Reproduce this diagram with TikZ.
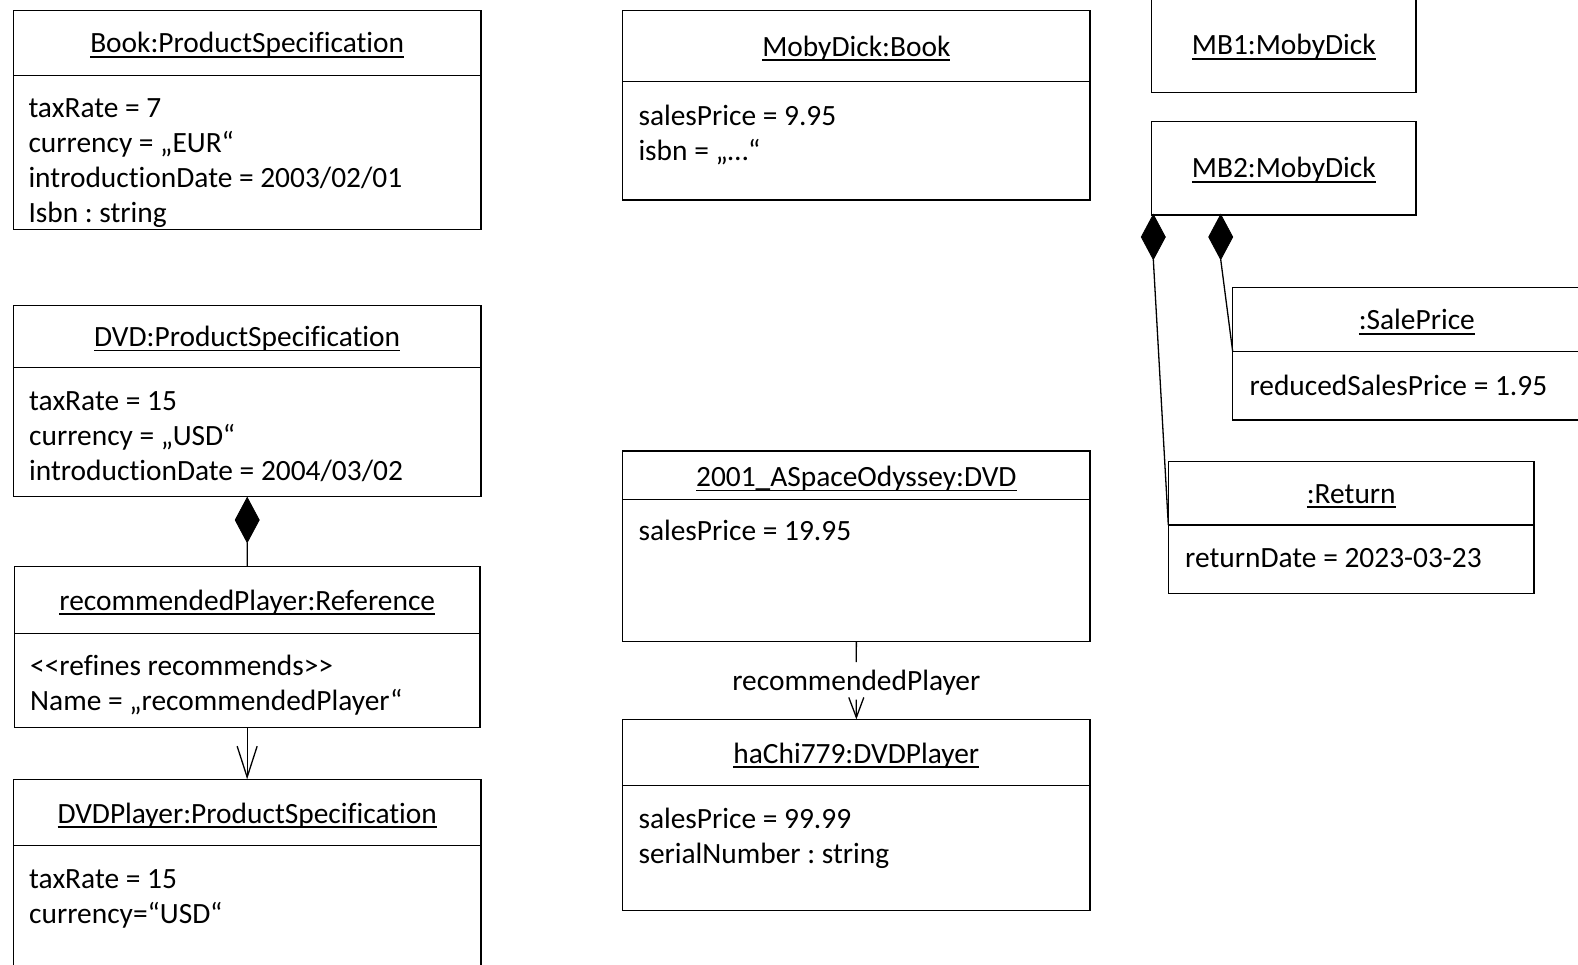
\documentclass[tikz,border=0pt]{standalone}
\usepackage{fontspec}
\setmainfont{Carlito}[Ligatures={TeXOff,NoCommon}]
\usetikzlibrary{arrows.meta,shapes.geometric}

% underlined object name (UML instance title)
\newcommand\objname[1]{\setbox0=\hbox{#1}\rlap{\rule[-4.6pt]{\wd0}{1.6pt}}\box0}
% rectangle node spanning the corners (x1,y1)-(x2,y2)
\newcommand\objframe[5]{%
  \node[objbox, minimum width={#4-#2}, minimum height={#5-#3}] (#1) at ({(#2+#4)/2},{(#3+#5)/2}) {};}

\tikzset{
  objbox/.style={draw, rectangle, line width=1.3pt, inner sep=0pt, outer sep=0pt},
  sepline/.style={line width=1.3pt},
  objtitle/.style={anchor=base, inner sep=0pt},
  objattr/.style={anchor=base west, inner sep=0pt},
  assoc/.style={line width=1.3pt},
  compdia/.style={diamond, draw, fill=black, line width=0.8pt, inner sep=0pt, outer sep=0pt,
                  minimum width=24pt, minimum height=45pt},
  assoclabel/.style={anchor=base, inner sep=0pt, text height=28.2pt, text depth=8.8pt},
}

\begin{document}
\frenchspacing
\begin{tikzpicture}[x=1pt, y=-1pt, font=\fontsize{29.4pt}{35pt}\selectfont]
\useasboundingbox (0,0) rectangle (1578,965);
\clip (0,0) rectangle (1578,965);

% ---------- left column: product specifications ----------
\objframe{book}{13.3}{10.7}{481}{229.3}
\draw[sepline] (13.3,75.7) -- (481,75.7);
\node[objtitle] (bookT) at (247.2,53) {\objname{Book:ProductSpecification}};
\node[objattr] (bookA1) at (28.3,117.5) {taxRate = 7};
\node[objattr] (bookA2) at (28.3,152.5) {currency = „EUR“};
\node[objattr] (bookA3) at (28.3,187.5) {introductionDate = 2003/02/01};
\node[objattr] (bookA4) at (28.3,222.5) {Isbn : string};

\objframe{dvd}{13.3}{305.7}{481}{496.7}
\draw[sepline] (13.3,367.7) -- (481,367.7);
\node[objtitle] (dvdT) at (247.2,346.5) {\objname{DVD:ProductSpecification}};
\node[objattr] (dvdA1) at (29,410) {taxRate = 15};
\node[objattr] (dvdA2) at (29,445) {currency = „USD“};
\node[objattr] (dvdA3) at (29,480) {introductionDate = 2004/03/02};

\objframe{ref}{14.3}{566.7}{480}{727.3}
\draw[sepline] (14.3,633.3) -- (480,633.3);
\node[objtitle] (refT) at (247.2,610) {\objname{recommendedPlayer:Reference}};
\node[objattr] (refA1) at (30,675.5) {<\kern0pt<refines recommends>\kern0pt>};
\node[objattr] (refA2) at (30,710.5) {Name = „recommendedPlayer“};

\objframe{player}{13.3}{779.3}{481}{1000}
\draw[sepline] (13.3,845.7) -- (481,845.7);
\node[objtitle] (playerT) at (247.2,823) {\objname{DVDPlayer:ProductSpecification}};
\node[objattr] (playerA1) at (29,888.5) {taxRate = 15};
\node[objattr] (playerA2) at (29,923.5) {currency=“USD“};

\node[compdia] (dvdDia) at (247.2,520) {};
\draw[assoc] (dvdDia.south) -- (ref.north);
\draw[assoc, -{Straight Barb[length=31pt, width=20pt]}] (ref.south) -- (player.north);

% ---------- middle column: product instances ----------
\objframe{moby}{622.7}{10.7}{1090}{200}
\draw[sepline] (622.7,81.7) -- (1090,81.7);
\node[objtitle] (mobyT) at (856.3,56.5) {\objname{MobyDick:Book}};
\node[objattr] (mobyA1) at (638.3,125.5) {salesPrice = 9.95};
\node[objattr] (mobyA2) at (638.3,160.5) {isbn = „…“};

\objframe{odyssey}{622.7}{451}{1090}{641.7}
\draw[sepline] (622.7,499.3) -- (1090,499.3);
\node[objtitle] (odysseyT) at (856.3,486.5) {\objname{2001\_ASpaceOdyssey:DVD}};
\node[objattr] (odysseyA1) at (638.3,540.5) {salesPrice = 19.95};

\objframe{hachi}{622.7}{719.3}{1090}{910.7}
\draw[sepline] (622.7,785.7) -- (1090,785.7);
\node[objtitle] (hachiT) at (856.3,763) {\objname{haChi779:DVDPlayer}};
\node[objattr] (hachiA1) at (638.3,828.5) {salesPrice = 99.99};
\node[objattr] (hachiA2) at (638.3,863.5) {serialNumber : string};

\node[assoclabel] (rpLabel) at (856.3,690.5) {recommendedPlayer};
\draw[assoc] (odyssey.south) -- (rpLabel.north);
\draw[assoc, -{Straight Barb[length=20pt, width=15pt]}] (rpLabel.south) -- (hachi.north);

% ---------- right column: book copies ----------
\objframe{mbOne}{1151.7}{-2}{1416}{92.3}
\node[objtitle] (mbOneT) at (1283.8,55) {\objname{MB1:MobyDick}};

\objframe{mbTwo}{1151.7}{121.7}{1416}{215}
\node[objtitle] (mbTwoT) at (1283.8,178) {\objname{MB2:MobyDick}};

\objframe{sale}{1232.7}{287.3}{1601}{420}
\draw[sepline] (1232.7,351.7) -- (1601,351.7);
\node[objtitle] (saleT) at (1416.8,330) {\objname{:SalePrice}};
\node[objattr] (saleA1) at (1249.3,395.5) {reducedSalesPrice = 1.95};

\objframe{ret}{1168.3}{461.7}{1534}{593.3}
\draw[sepline] (1168.3,525) -- (1534,525);
\node[objtitle] (retT) at (1351.2,503) {\objname{:Return}};
\node[objattr] (retA1) at (1185,567) {returnDate = 2023-03-23};

\coordinate (saleJoin) at (1232.7,351.7);
\coordinate (retJoin) at (1168.3,525);
\node[compdia] (mbDiaA) at (1153.3,237) {};
\node[compdia] (mbDiaB) at (1220.7,237) {};
\draw[assoc] (mbDiaA.south) -- (retJoin);
\draw[assoc] (mbDiaB.south) -- (saleJoin);
\end{tikzpicture}
\end{document}
